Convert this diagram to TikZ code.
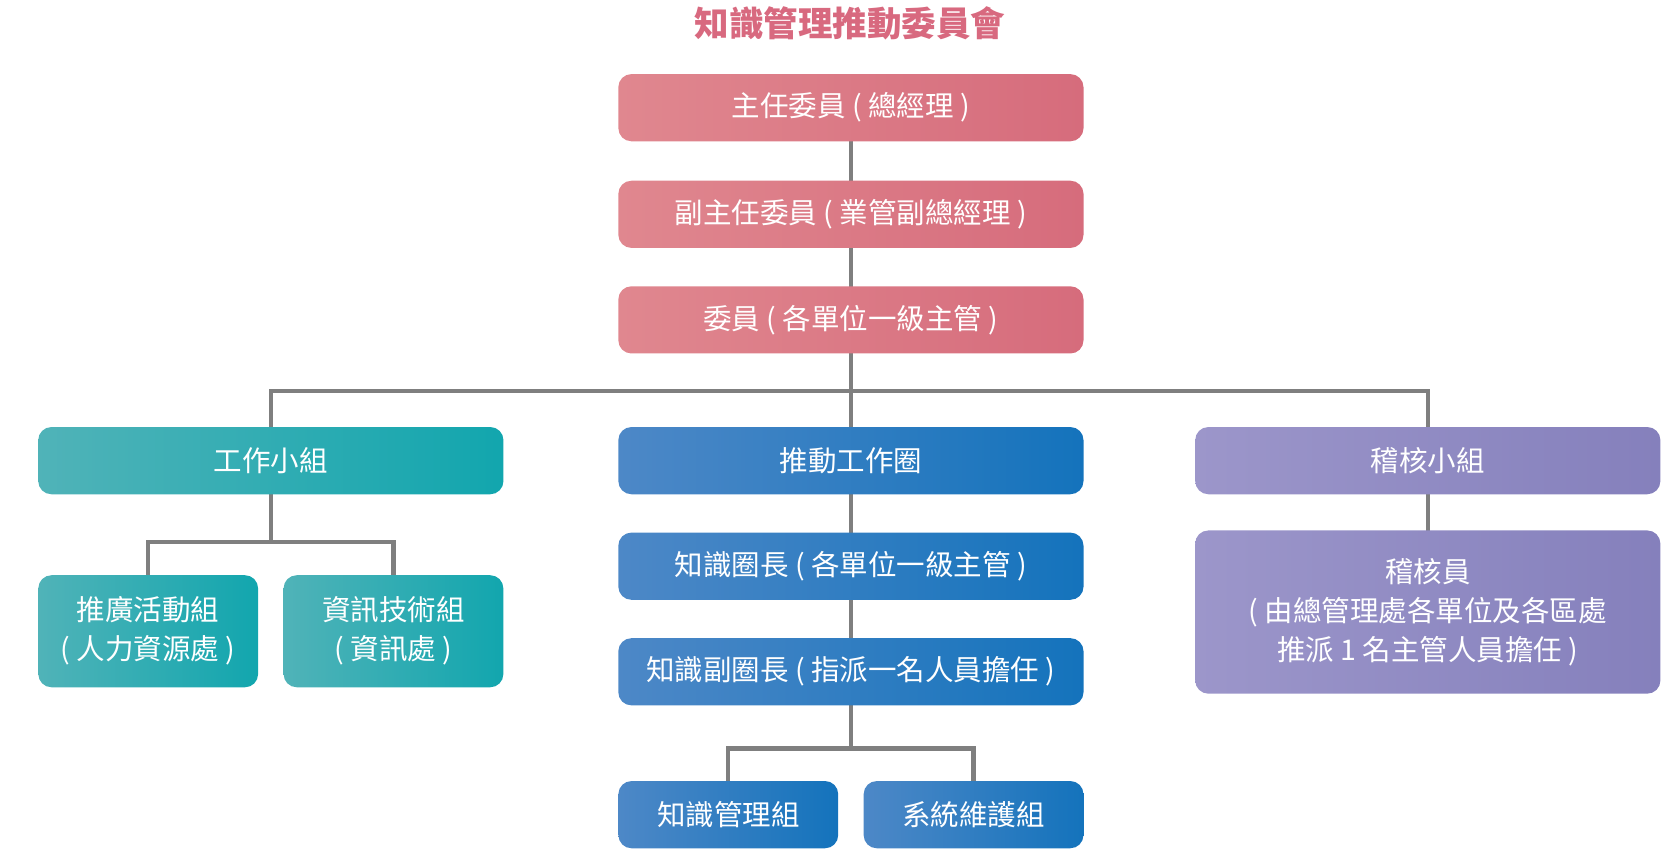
\documentclass[tikz,border=0pt]{standalone}
\usepackage{fontspec}
\setmainfont{Noto Sans CJK TC}
\usetikzlibrary{positioning}
\definecolor{pinkL}{HTML}{E0878F}
\definecolor{pinkR}{HTML}{D66C7C}
\definecolor{tealL}{HTML}{50B3B8}
\definecolor{tealR}{HTML}{12A6AE}
\definecolor{blueL}{HTML}{4D88C7}
\definecolor{blueR}{HTML}{1473BC}
\definecolor{purpL}{HTML}{9C96CA}
\definecolor{purpR}{HTML}{8580BC}
\definecolor{linegray}{HTML}{7F7F7F}
\definecolor{titlepink}{HTML}{D8697F}
\begin{document}
\begin{tikzpicture}[x=0.01cm, y=-0.01cm,
    box/.style={rounded corners=3.5pt, text=white, align=center, inner sep=0pt,
      font=\fontsize{7.6}{10.4}\selectfont},
    wide/.style={box, minimum width=4.36cm, minimum height=0.63cm},
    small/.style={box, minimum width=2.06cm, minimum height=0.63cm},
    pinkbox/.style={left color=pinkL, right color=pinkR},
    tealbox/.style={left color=tealL, right color=tealR},
    bluebox/.style={left color=blueL, right color=blueR},
    purpbox/.style={left color=purpL, right color=purpR},
    conn/.style={draw=linegray, line width=1.1pt}
    ]
\useasboundingbox (0,0) rectangle (1568,807);
% connectors (drawn first, under the boxes)
\coordinate (cTop) at (798,101);
\coordinate (hub) at (798,367);
\coordinate (wTop) at (254,432);
\coordinate (aTop) at (1339,432);
\coordinate (wsplit) at (254,508);
\coordinate (pTop) at (139,592);
\coordinate (iTop) at (369,592);
\coordinate (csplit) at (798,702);
\coordinate (kTop) at (683,764);
\coordinate (sTop) at (913,764);
\coordinate (cBot) at (798,702);
\coordinate (audBot) at (1339,574);
\draw[conn] (cTop) -- (cBot);
\draw[conn] (wTop) |- (hub) -| (aTop);
\draw[conn] (wTop) -- (wsplit);
\draw[conn] (pTop) |- (wsplit) -| (iTop);
\draw[conn] (kTop) |- (csplit) -| (sTop);
\draw[conn] (aTop) -- (audBot);
% title
\node (title) at (797,22) {\textcolor{titlepink}{\fontsize{9.2}{11}\selectfont\bfseries 知識管理推動委員會}};
% committee
\node[wide, pinkbox] (chief) at (798,101) {主任委員 ( 總經理 )};
\node[wide, pinkbox] (vice) at (798,201) {副主任委員 ( 業管副總經理 )};
\node[wide, pinkbox] (member) at (798,300) {委員 ( 各單位一級主管 )};
% second row
\node[wide, tealbox] (work) at (254,432) {工作小組};
\node[wide, bluebox] (circle) at (798,432) {推動工作圈};
\node[wide, purpbox] (audit) at (1339,432) {稽核小組};
% work group children
\node[small, tealbox, minimum height=1.05cm] (promo) at (139,592) {推廣活動組\\( 人力資源處 )};
\node[small, tealbox, minimum height=1.05cm] (info) at (369,592) {資訊技術組\\( 資訊處 )};
% circle children
\node[wide, bluebox] (leader) at (798,531) {知識圈長 ( 各單位一級主管 )};
\node[wide, bluebox] (vleader) at (798,630) {知識副圈長 ( 指派一名人員擔任 )};
\node[small, bluebox] (kmg) at (683,764) {知識管理組};
\node[small, bluebox] (sys) at (913,764) {系統維護組};
% auditor
\node[wide, purpbox, minimum height=1.53cm] (auditor) at (1339,574) {稽核員\\( 由總管理處各單位及各區處\\推派 1 名主管人員擔任 )};
\end{tikzpicture}
\end{document}
